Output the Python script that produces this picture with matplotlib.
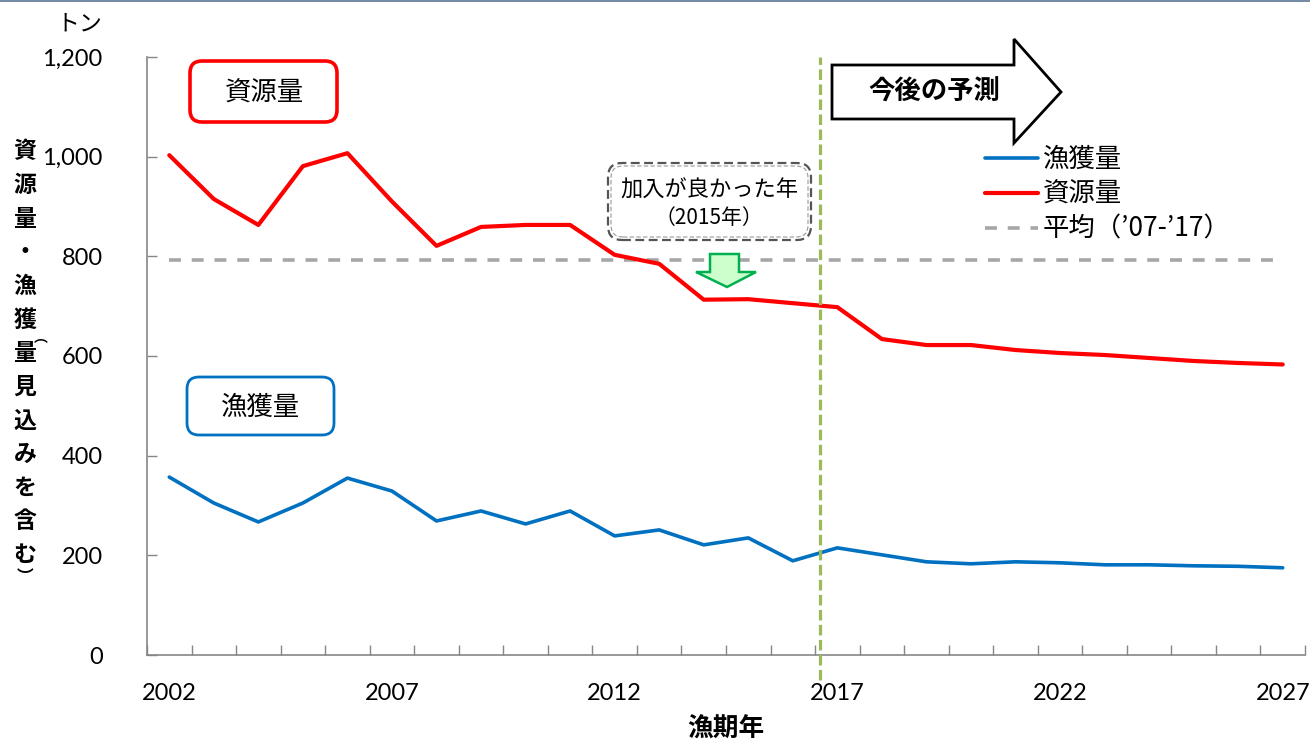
import numpy as np
import matplotlib
matplotlib.use("Agg")
import matplotlib.pyplot as plt
from matplotlib.patches import FancyBboxPatch, Polygon
from matplotlib.transforms import IdentityTransform
from matplotlib.lines import Line2D
from matplotlib.ticker import FuncFormatter
from matplotlib.font_manager import FontProperties

# ---------------- data ----------------
years = list(range(2002, 2028))
biomass = [1003, 915, 863, 981, 1007, 910, 821, 859, 863, 863, 803, 785, 713, 714,
           706, 698, 634, 622, 622, 612, 606, 602, 596, 590, 586, 583]
catch = [357, 305, 267, 305, 355, 329, 269, 289, 263, 289, 239, 251, 221, 235,
         189, 215, 201, 187, 183, 187, 185, 181, 181, 179, 178, 175]
average_0717 = 793
forecast_boundary = 2016.6
yticks = [0, 200, 400, 600, 800, 1000, 1200]
xlabel_years = [2002, 2007, 2012, 2017, 2022, 2027]

label_biomass = "資源量"
label_catch = "漁獲量"
label_avg = "平均（’07-’17）"

JP = ["Noto Sans CJK JP", "DejaVu Sans"]
plt.rcParams['font.family'] = ["Lato", "Noto Sans CJK JP", "DejaVu Sans"]

W, H = 1310, 742
fig = plt.figure(figsize=(W / 100, H / 100), dpi=100)
L, R, T, B = 147, 1305, 57, 655
ax = fig.add_axes([L / W, 1 - B / H, (R - L) / W, (B - T) / H])

def px(x, y):
    return (x, H - y)

# lines
la, = ax.plot(years, [average_0717] * len(years), color="#a6a6a6", lw=2.6,
              dashes=(3.3, 3.0), label=label_avg, zorder=2)
lc, = ax.plot(years, catch, color="#0070c0", lw=2.6, solid_joinstyle="round",
              solid_capstyle="round", label=label_catch, zorder=3)
lb, = ax.plot(years, biomass, color="#ff0000", lw=3.0, solid_joinstyle="round",
              solid_capstyle="round", label=label_biomass, zorder=3)
ax.axvline(forecast_boundary, ymin=-0.042, ymax=1.0, color="#9bbb59", lw=2.3,
           dashes=(3.3, 1.4), clip_on=False, zorder=4)

ax.set_xlim(2001.5, 2027.5)
ax.set_ylim(0, 1200)
ax.set_xticks(np.arange(2001.5, 2028.0, 1.0))
ax.set_xticklabels([])
ax.set_xticks(xlabel_years, minor=True)
ax.set_xticklabels([str(y) for y in xlabel_years], minor=True, fontsize=17)
ax.tick_params(axis="x", which="major", direction="in", length=7, width=1,
               color="#868686")
ax.tick_params(axis="x", which="minor", length=0, pad=20)
ax.set_yticks(yticks)
ax.yaxis.set_major_formatter(FuncFormatter(lambda v, p: f"{int(v):,}"))
ax.tick_params(axis="y", direction="in", length=7, width=1, color="#868686",
               labelsize=17, pad=32)
for s in ["top", "right"]:
    ax.spines[s].set_visible(False)
for s in ["left", "bottom"]:
    ax.spines[s].set_color("#868686")
    ax.spines[s].set_linewidth(1.2)

# axis labels
fig.text(726 / W, 1 - 729 / H, "漁期年", family=JP, fontsize=18.5, fontweight="bold",
         ha="center", va="center")
fig.text(79 / W, 1 - 24 / H, "トン", family=JP, fontsize=16.5, ha="center", va="center")
ychars = ["資", "源", "量", "・", "漁", "獲", "量", "見", "込", "み", "を", "含", "む"]
for i, ch in enumerate(ychars):
    fig.text(25 / W, 1 - (152 + i * 33.6) / H, ch, family=JP, fontsize=16.5,
             fontweight="bold", ha="center", va="center")
fig.text(41 / W, 1 - 338 / H, "︵", family=JP, fontsize=10, fontweight="bold",
         ha="center", va="center")
fig.text(25 / W, 1 - 577 / H, "︶", family=JP, fontsize=12, fontweight="bold",
         ha="center", va="center")

# legend
prop = FontProperties(family=JP, size=19)
ax.legend(handles=[lc, lb, la], labels=[label_catch, label_biomass, label_avg],
          loc="upper left", bbox_to_anchor=(985 / W, 1 - 146 / H),
          bbox_transform=fig.transFigure, frameon=False, prop=prop,
          handlelength=2.0, handletextpad=0.2, labelspacing=0.3,
          borderpad=0, borderaxespad=0)

# boxes
idt = IdentityTransform()
def rbox(x0, y0, x1, y1, ec, lw, ls="-", rs=12):
    p = FancyBboxPatch(px(x0, y1), x1 - x0, y1 - y0,
                       boxstyle=f"round,pad=0,rounding_size={rs}",
                       transform=idt, fc="white", ec=ec, lw=lw, ls=ls, zorder=5)
    fig.add_artist(p)

rbox(190, 61, 337, 122, "#ff0000", 2.6)
fig.text(264 / W, 1 - 93 / H, "資源量", family=JP, fontsize=19, ha="center", va="center",
         zorder=6)
rbox(187, 377, 334, 435, "#0070c0", 2.0)
fig.text(260 / W, 1 - 407 / H, "漁獲量", family=JP, fontsize=19, ha="center", va="center",
         zorder=6)

rbox(608, 163, 811, 240, "#555555", 1.6, ls=(0, (4, 2)), rs=14)
rbox(611, 166, 808, 237, "#999999", 0.8, ls=(0, (4, 2)), rs=12)
fig.text(709 / W, 1 - 190 / H, "加入が良かった年", family=JP, fontsize=16,
         ha="center", va="center", zorder=6)
fig.text(709 / W, 1 - 218 / H, "（2015年）", family=JP, fontsize=15,
         ha="center", va="center", zorder=6)

# green down arrow
garrow = [px(710, 254), px(739, 254), px(739, 272), px(756, 272), px(727, 287),
          px(696, 272), px(710, 272)]
fig.add_artist(Polygon(garrow, closed=True, transform=idt, fc="#ccffcc",
                       ec="#00b050", lw=1.8, zorder=6))

# forecast block arrow
barrow = [px(832, 65), px(1014, 65), px(1014, 39), px(1061, 92), px(1014, 143),
          px(1014, 119), px(832, 119)]
fig.add_artist(Polygon(barrow, closed=True, transform=idt, fc="white",
                       ec="black", lw=2.0, zorder=6))
fig.text(934 / W, 1 - 92 / H, "今後の予測", family=JP, fontsize=19,
         fontweight="bold", ha="center", va="center", zorder=7)

# top border line
fig.add_artist(Line2D([0, 1], [1 - 0.8 / H, 1 - 0.8 / H], transform=fig.transFigure,
                      color="#5a7593", lw=1.2))

fig.savefig("out.png", dpi=100)
